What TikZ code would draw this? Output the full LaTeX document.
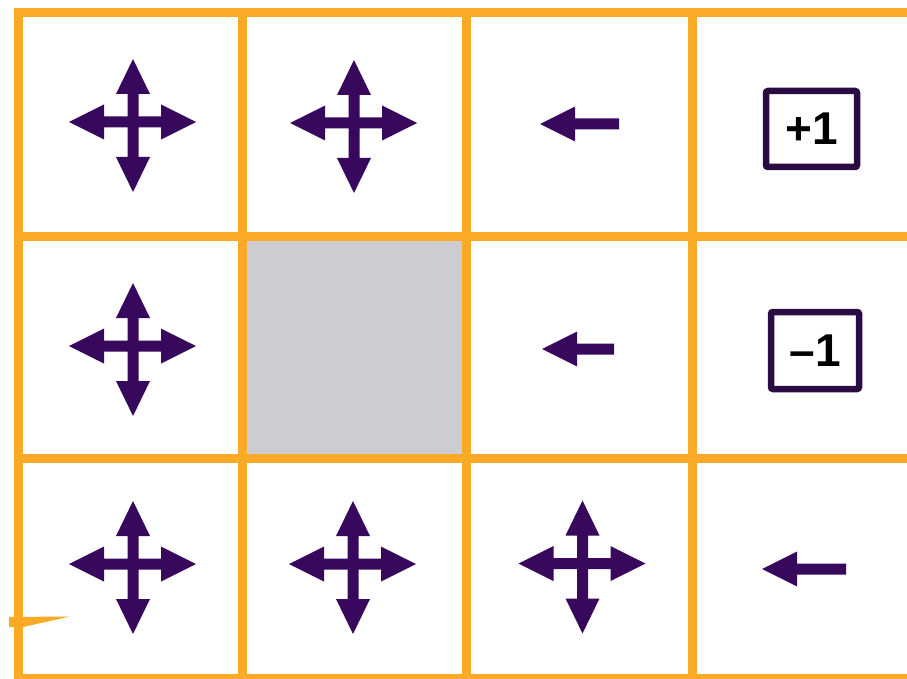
\documentclass[tikz,border=0pt]{standalone}
\usepackage{fontspec}
\setmainfont{Liberation Sans}
\definecolor{gridc}{RGB}{251,170,39}
\definecolor{wallc}{RGB}{205,204,209}
\definecolor{arrowc}{RGB}{56,8,92}
\definecolor{boxc}{RGB}{42,11,66}
\tikzset{
  gridline/.style={draw=gridc, line width=9pt},
  fourway/.pic={
    \fill[arrowc] (0,-63) -- (17,-28) -- (5.5,-28) -- (5.5,-5.5) -- (28,-5.5) -- (28,-17.5) -- (63,0)
      -- (28,17.5) -- (28,5.5) -- (5.5,5.5) -- (5.5,35) -- (17,35) -- (0,70) -- (-17,35) -- (-5.5,35)
      -- (-5.5,5.5) -- (-29,5.5) -- (-29,17.5) -- (-64,0) -- (-29,-17.5) -- (-29,-5.5) -- (-5.5,-5.5)
      -- (-5.5,-28) -- (-17,-28) -- cycle;
  },
  leftarr/.pic={
    \fill[arrowc] (0,0) -- (35,-17.5) -- (35,-5.5) -- (#1,-5.5) -- (#1,5.5) -- (35,5.5) -- (35,17.5) -- cycle;
  },
  rewardbox/.style={draw=boxc, line width=6.5pt, rounded corners=2pt, inner sep=0pt,
    font=\bfseries\fontsize{46}{46}\selectfont, text=black}
}
\begin{document}
\begin{tikzpicture}[x=1pt,y=-1pt]
\useasboundingbox (0,0) rectangle (907,679);
\clip (0,0) rectangle (907,679);
\fill[white] (0,0) rectangle (907,679);
% wall cell
\fill[wallc] (242.5,236) rectangle (466.5,458);
% grid
\draw[gridline] (18,12.5) rectangle (916,678);
\draw[gridline] (242.5,12.5) -- (242.5,678);
\draw[gridline] (466.5,12.5) -- (466.5,678);
\draw[gridline] (692,12.5) -- (692,678);
\draw[gridline] (18,236) -- (916,236);
\draw[gridline] (18,458) -- (916,458);
% small orange spike
\fill[gridc] (9,617) -- (70,616.5) -- (23,627) -- (9,627) -- cycle;
% four-way arrows
\pic at (133,122) {fourway};
\pic at (354,123) {fourway};
\pic at (133,346) {fourway};
\pic at (133,564) {fourway};
\pic at (353,564) {fourway};
\pic at (582.5,563.5) {fourway};
% left arrows
\pic at (540,124) {leftarr=79};
\pic at (542,349) {leftarr=72};
\pic at (762,569) {leftarr=84};
% reward boxes
\node[rewardbox, minimum width=91pt, minimum height=76pt] (plus) at (811.5,129) {+1};
\node[rewardbox, minimum width=88pt, minimum height=77pt] (minus) at (815,350.5) {–1};
\end{tikzpicture}
\end{document}
